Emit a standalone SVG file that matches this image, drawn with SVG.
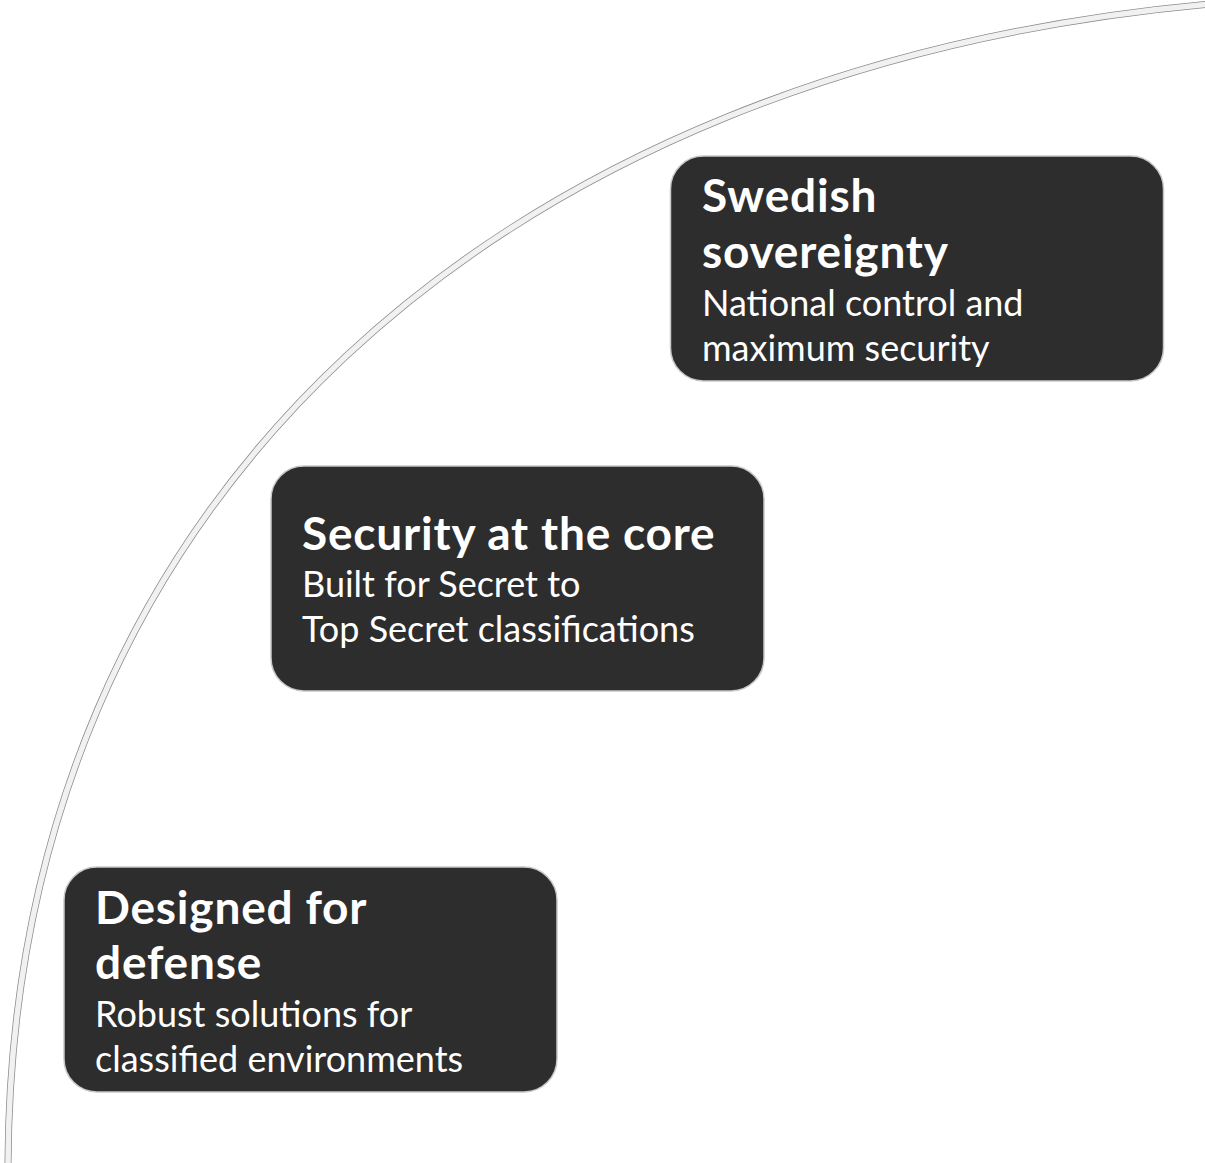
<svg xmlns="http://www.w3.org/2000/svg" width="1205" height="1163" viewBox="0 0 1205 1163">
<style>
.card{fill:#2d2d2d;stroke:#c8c8c8;stroke-width:1.5}
.t{font-family:Lato,"Liberation Sans",sans-serif;fill:#ffffff}
.h{font-size:46px;font-weight:700;letter-spacing:0.8px}
.b{font-size:36px;font-weight:400}
.arcO{fill:none;stroke:#8a8a8a;stroke-width:7}
.arcI{fill:none;stroke:#f1f1f1;stroke-width:5.5}
</style>
<rect width="1205" height="1163" fill="#ffffff"/>
<g id="connectors">
<path class="arcO" d="M 8 1170 C 8 491 509 67 1210 4"/>
<path class="arcI" d="M 8 1170 C 8 491 509 67 1210 4"/>
</g>
<g id="node-sovereignty">
<rect class="card" x="670.5" y="156" width="493" height="225" rx="33"/>
<text class="t h" x="702" y="212">Swedish</text>
<text class="t h" x="702" y="268">sovereignty</text>
<text class="t b" x="702" y="316">National control and</text>
<text class="t b" x="702" y="361">maximum security</text>
</g>
<g id="node-security">
<rect class="card" x="271" y="466" width="493" height="225" rx="33"/>
<text class="t h" x="302" y="550">Security at the core</text>
<text class="t b" x="302" y="597">Built for Secret to</text>
<text class="t b" x="302" y="642">Top Secret classifications</text>
</g>
<g id="node-defense">
<rect class="card" x="64" y="867" width="493" height="225" rx="33"/>
<text class="t h" x="95" y="924">Designed for</text>
<text class="t h" x="95" y="979">defense</text>
<text class="t b" x="95" y="1027">Robust solutions for</text>
<text class="t b" x="95" y="1072">classified environments</text>
</g>
</svg>
